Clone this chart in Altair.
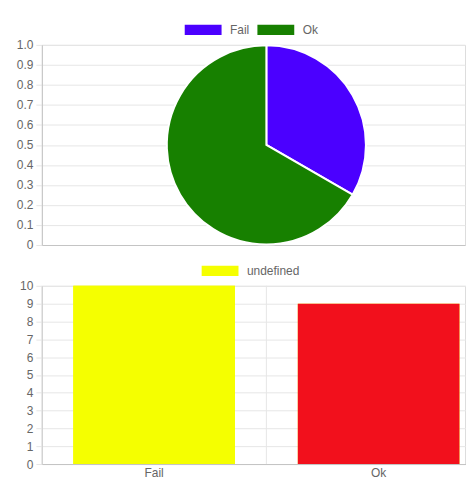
import altair as alt
import pandas as pd

# pie panel
pie_labels = ["Fail", "Ok"]
pie_values = [1, 2]
pie_colors = ["#4b00ff", "#178000"]
pie_axis_ticks = [0, 0.1, 0.2, 0.3, 0.4, 0.5, 0.6, 0.7, 0.8, 0.9, 1.0]

# bar panel
bar_labels = ["Fail", "Ok"]
bar_values = [10, 9]
bar_colors = ["#f5ff00", "#f2101c"]
bar_dataset = "undefined"
bar_axis_ticks = [0, 1, 2, 3, 4, 5, 6, 7, 8, 9, 10]

# the source canvas was wider than the window; its plot area ran ~451px
PLOT_W = 451
VIEW_W = 425
BAR_H = 179
FONT = "Liberation Sans"
TEXT = "#666666"
GRID = "#e6e6e6"
ZERO = "#c4c4c4"
# wide chart.js-style legend swatch (37x10px); drawn larger than its nominal
# size so the legend rows stay short
BOX = "M-4,-1.1H4V1.1H-4Z"
BOX_SIZE = 9.25 ** 2

grid_color = alt.condition("datum.value == 0", alt.value(ZERO), alt.value(GRID))


def y_axis(values, label_expr=alt.Undefined):
    return alt.Axis(
        values=values, labelExpr=label_expr, title=None, grid=True,
        gridColor=grid_color, domainColor=ZERO, tickColor=GRID, tickSize=6,
        labelPadding=3, labelColor=TEXT, labelFont=FONT, labelFontSize=12,
    )


def legend(x, y):
    return alt.Legend(
        title=None, orient="none", legendX=x, legendY=y, direction="horizontal",
        symbolType=BOX, symbolSize=BOX_SIZE, symbolStrokeWidth=0,
        labelColor=TEXT, labelFont=FONT, labelFontSize=12,
        labelOffset=21, columnPadding=7,
    )


pie_df = pd.DataFrame({"label": pie_labels, "value": pie_values})
ticks_df = pd.DataFrame({"tick": pie_axis_ticks})

pie_axis = alt.Chart(ticks_df).mark_rule(opacity=0).encode(
    y=alt.Y("tick:Q", scale=alt.Scale(domain=[0, 1], nice=False),
            axis=y_axis(pie_axis_ticks, "datum.value == 0 ? '0' : format(datum.value, '.1f')")),
)

pie = alt.Chart(pie_df).mark_arc(
    outerRadius=100, stroke="white", strokeWidth=2, x=PLOT_W / 2,
).encode(
    theta=alt.Theta("value:Q", stack=True),
    color=alt.Color("label:N", scale=alt.Scale(domain=pie_labels, range=pie_colors),
                    legend=legend(156, -21)),
    order=alt.Order("label:N"),
)

top = alt.layer(pie_axis, pie).properties(width=VIEW_W, height=201)

bar_df = pd.DataFrame({
    "label": bar_labels, "value": bar_values,
    "color": bar_colors, "dataset": bar_dataset,
})

# category bands keep the full source width, so the x axis is drawn as text marks
x_enc = alt.X(
    "label:N", sort=bar_labels, axis=None,
    scale=alt.Scale(range=[0, PLOT_W], paddingInner=0, paddingOuter=0),
)
y_enc = alt.Y("value:Q", scale=alt.Scale(domain=[0, 10], nice=False),
              axis=y_axis(bar_axis_ticks))

vgrid = alt.Chart(bar_df).mark_rule(color=GRID).encode(
    x=alt.X("label:N", sort=bar_labels, bandPosition=0, axis=None),
)

x_labels = alt.Chart(bar_df).mark_text(
    font=FONT, fontSize=12, color=TEXT, baseline="middle", dy=9,
).encode(x=x_enc, y=alt.value(BAR_H), text="label:N")

# legend-only layer: chart.js shows the dataset label (undefined) with the first bar colour
bars_legend = alt.Chart(bar_df).mark_bar(width=alt.RelativeBandSize(0.72)).encode(
    x=x_enc, y=y_enc,
    color=alt.Color("dataset:N", scale=alt.Scale(range=[bar_colors[0]]),
                    legend=legend(173, -21)),
)

bars = alt.Chart(bar_df).mark_bar(width=alt.RelativeBandSize(0.72)).encode(
    x=x_enc, y=y_enc,
    fill=alt.Fill("color:N", scale=None),
)

bottom = alt.layer(vgrid, bars_legend, bars, x_labels).properties(width=VIEW_W, height=BAR_H)

chart = alt.vconcat(top, bottom, spacing=12).resolve_scale(
    color="independent"
).properties(
    padding={"left": 7, "top": 14, "right": 0, "bottom": 0},
).configure_view(stroke=None).configure(background="white")

chart.save("out.html", embed_options={"renderer": "svg", "actions": False})
